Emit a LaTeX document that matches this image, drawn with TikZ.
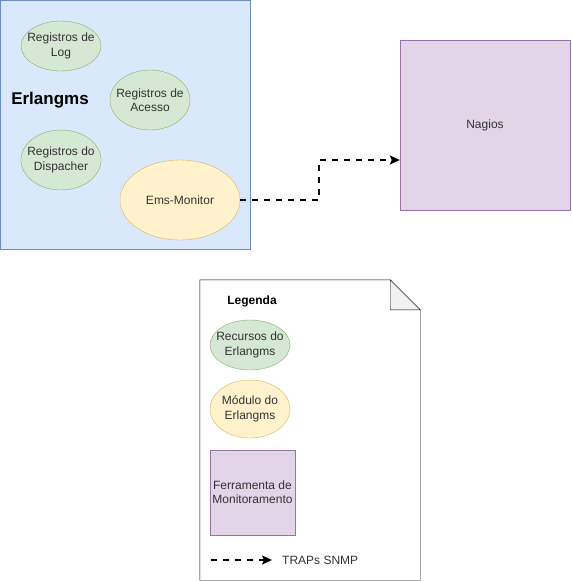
\documentclass[tikz,border=0pt]{standalone}
\usepackage{fontspec}
\setmainfont{Liberation Sans}
\usetikzlibrary{shapes.geometric,arrows.meta}
\definecolor{bluefill}{HTML}{DAE8FC}
\definecolor{bluedraw}{HTML}{6C8EBF}
\definecolor{greenfill}{HTML}{D5E8D4}
\definecolor{greendraw}{HTML}{82B366}
\definecolor{yellowfill}{HTML}{FFF2CC}
\definecolor{yellowdraw}{HTML}{D6B656}
\definecolor{purplefill}{HTML}{E1D5E7}
\definecolor{purpledraw}{HTML}{9673A6}
\definecolor{foldfill}{HTML}{F1F1F1}

\begin{document}
\begin{tikzpicture}[x=1pt,y=-1pt,
  every node/.style={font=\fontsize{12}{14.4}\selectfont,text=black!80,align=center,inner sep=0pt},
  recurso/.style={ellipse,draw=greendraw,fill=greenfill,inner xsep=-6pt,minimum width=80pt,minimum height=#1},
  recurso/.default=60pt,
  modulo/.style={ellipse,draw=yellowdraw,fill=yellowfill,inner xsep=-6pt,minimum width=#1},
  ferramenta/.style={rectangle,draw=purpledraw,fill=purplefill},
  trap/.style={black,line width=1.6pt,dash pattern=on 6pt off 6pt,-{Stealth[length=10pt,width=9pt,inset=2pt]}}]
\useasboundingbox (0,0) rectangle (571,581);

\node[rectangle,draw=bluedraw,fill=bluefill,minimum width=250pt,minimum height=249pt] (erl) at (125,124.5) {};
\node[font=\fontsize{17}{20}\selectfont\bfseries,text=black] (erltitle) at (50,100) {Erlangms};

\node[recurso=50pt] (log) at (61,46) {Registros de\\Log};
\node[recurso] (acesso) at (150,100) {Registros de\\Acesso};
\node[recurso] (disp) at (61,160) {Registros do\\Dispacher};
\node[modulo=120pt,minimum height=80pt] (ems) at (180,200) {Ems-Monitor};

\node[ferramenta,minimum width=170pt,minimum height=170pt] (nagios) at (485,125) {Nagios};

\coordinate (bend) at (319,160);
\draw[trap] (ems.east) -| (bend) -- (bend -| nagios.west);

% legenda
\node[minimum width=220pt,minimum height=300pt] (leg) at (310,430) {};
\draw[black,fill=white] (leg.north west) -- ([xshift=-30pt]leg.north east) -- ([yshift=-30pt]leg.north east)
  -- (leg.south east) -- (leg.south west) -- cycle;
\draw[black,fill=foldfill] ([xshift=-30pt]leg.north east) -- ([xshift=-30pt,yshift=-30pt]leg.north east)
  -- ([yshift=-30pt]leg.north east) -- cycle;
\node[font=\fontsize{12}{14.4}\selectfont\bfseries,text=black] (legtitle) at (252,301) {Legenda};

\node[recurso=50pt] (recleg) at (250,345) {Recursos do\\Erlangms};
\node[modulo=80pt,minimum height=58pt] (modleg) at (250,409) {M\'odulo do\\Erlangms};
\node[ferramenta,minimum width=85pt,minimum height=85pt] (ferleg) at (252.5,492.5) {Ferramenta de\\Monitoramento};

\coordinate (trapini) at (211,560);
\node[anchor=west] (trapleg) at (282,560) {TRAPs SNMP};
\draw[trap] (trapini) -- ([xshift=-10pt]trapleg.west);
\end{tikzpicture}
\end{document}
